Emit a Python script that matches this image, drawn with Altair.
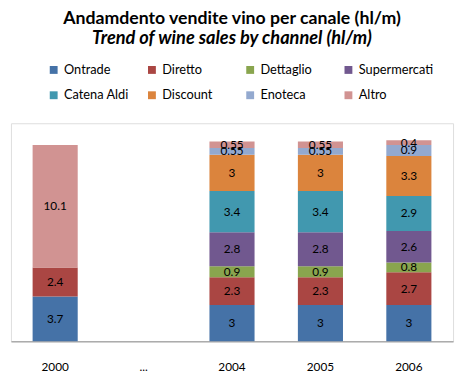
import altair as alt
import pandas as pd

years = ["2000", "...", "2004", "2005", "2006"]
channels = ["Ontrade", "Diretto", "Dettaglio", "Supermercati",
            "Catena Aldi", "Discount", "Enoteca", "Altro"]
colors = ["#4572A7", "#AA4643", "#89A54E", "#71588F",
          "#4198AF", "#DB843D", "#93A9CF", "#D19392"]

v2000 = [3.7, 2.4, None, None, None, None, None, 10.1]
v2004 = [3, 2.3, 0.9, 2.8, 3.4, 3, 0.55, 0.55]
v2005 = [3, 2.3, 0.9, 2.8, 3.4, 3, 0.55, 0.55]
v2006 = [3, 2.7, 0.8, 2.6, 2.9, 3.3, 0.9, 0.4]

rows = []
for yr, vals in [("2000", v2000), ("2004", v2004), ("2005", v2005), ("2006", v2006)]:
    for i, (ch, v) in enumerate(zip(channels, vals)):
        if v is not None:
            rows.append({"year": yr, "channel": ch, "idx": i, "value": v})
df = pd.DataFrame(rows)

FONT = "Lato"

base = alt.Chart(df).transform_stack(
    stack="value", groupby=["year"], sort=[alt.SortField("idx", order="ascending")],
    as_=["y0", "y1"]
).transform_calculate(mid="(datum.y0 + datum.y1) / 2")

x_scale = alt.Scale(domain=years, paddingInner=0.49, paddingOuter=0.245)
x_enc = alt.X("year:N", scale=x_scale,
              axis=alt.Axis(title=None, labelAngle=0, ticks=False, domainColor="#8c8c8c",
                            labelFontSize=12, labelFont=FONT, labelColor="#000000",
                            labelPadding=26, labelBaseline="middle"))
y_scale = alt.Scale(domain=[0, 18], nice=False)

bars = base.mark_bar().encode(
    x=x_enc,
    y=alt.Y("y0:Q", scale=y_scale, axis=None),
    y2="y1:Q",
    color=alt.Color("channel:N", scale=alt.Scale(domain=channels, range=colors),
                    legend=alt.Legend(title=None, orient="none", legendX=37, legendY=-61,
                                      direction="horizontal",
                                      columns=4, symbolType="square", symbolSize=64,
                                      symbolStrokeWidth=0, labelFont=FONT, labelFontSize=13,
                                      labelColor="#000000", gridAlign="all",
                                      columnPadding=7, rowPadding=12, labelOffset=4,
                                      padding=0)),
)

labels = base.mark_text(font=FONT, fontSize=12, color="#000000", baseline="middle").encode(
    x=alt.X("year:N", scale=x_scale),
    y=alt.Y("mid:Q", scale=y_scale),
    text=alt.Text("value:Q"),
)

chart = alt.layer(bars, labels).properties(
    width=450, height=222,
    padding={"left": 3, "top": 114, "right": 4, "bottom": 35},
    autosize=alt.AutoSizeParams(type="none"),
    title=alt.TitleParams(
        text="Andamdento vendite vino per canale (hl/m)",
        subtitle="Trend of wine sales by channel (hl/m)",
        font=FONT, fontSize=18, fontWeight="bold", color="#000000",
        subtitleFont=FONT, subtitleFontSize=18.5, subtitleFontWeight="bold",
        subtitleFontStyle="italic", subtitleColor="#000000", subtitlePadding=2,
        anchor="middle", offset=16,
    ),
).configure_view(fill="#EBE8D9", stroke=None).configure(background="#FFFFFF")

chart.save("out.html", embed_options={"renderer": "svg", "actions": False})
